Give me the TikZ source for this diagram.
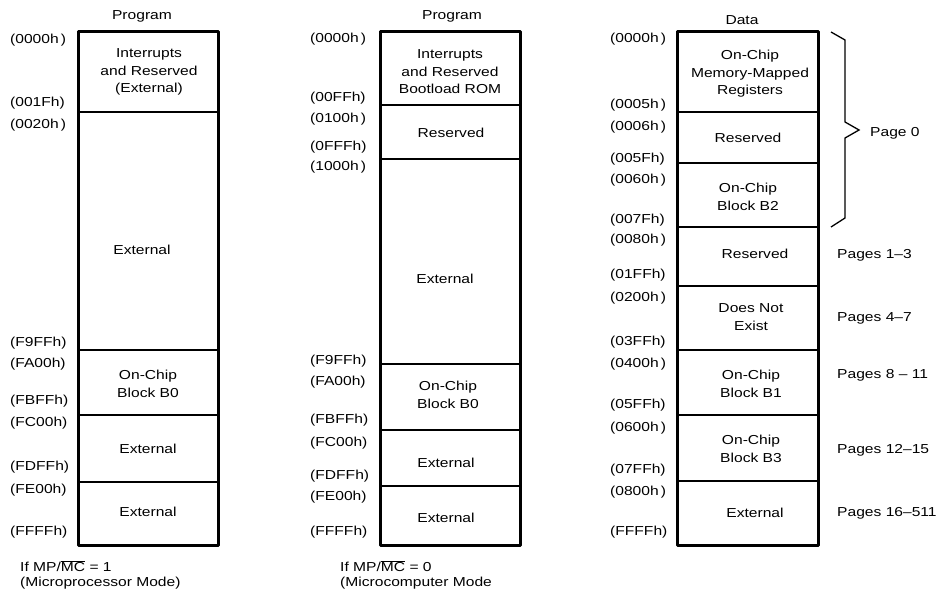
\documentclass[tikz,border=0pt]{standalone}
\usepackage{fontspec}
\setmainfont[FakeStretch=1.2]{Liberation Sans}
\begin{document}
\begin{tikzpicture}[x=1pt,y=-1pt,
  txt/.style={font=\fontsize{13}{17.5}\selectfont, align=center, inner sep=0pt},
  addr/.style={txt, anchor=west},
  outer/.style={line width=3pt, line join=round},
  divider/.style={line width=2pt}]
\useasboundingbox (0,0) rectangle (940,594);

% ---------- Column 1 ----------
\node[txt] (t1) at (142,16) {Program};
\draw[divider] (78,112) -- (218,112);
\draw[divider] (78,350) -- (218,350);
\draw[divider] (78,415) -- (218,415);
\draw[divider] (78,482) -- (218,482);
\draw[outer] (78,32) rectangle (218,545);
\node[txt] (c1a) at (149,72) {Interrupts\\and Reserved\\(External)};
\node[txt] (c1b) at (142,250) {External};
\node[txt] (c1c) at (148,384) {On-Chip\\Block B0};
\node[txt] (c1d) at (148,449) {External};
\node[txt] (c1e) at (148,512) {External};
\node[addr] (a1) at (10,40) {(0000h\,)};
\node[addr] (a2) at (10,103) {(001Fh)};
\node[addr] (a3) at (10,125) {(0020h\,)};
\node[addr] (a4) at (10,343) {(F9FFh)};
\node[addr] (a5) at (10,364) {(FA00h)};
\node[addr] (a6) at (10,401) {(FBFFh)};
\node[addr] (a7) at (10,423) {(FC00h)};
\node[addr] (a8) at (10,467) {(FDFFh)};
\node[addr] (a9) at (10,490) {(FE00h)};
\node[addr] (a10) at (10,532) {(FFFFh)};
\node[addr] (f1) at (20,566) {If MP/$\overline{\hbox{MC}}$ = 1};
\node[addr] (f2) at (20,583) {(Microprocessor Mode)};

% ---------- Column 2 ----------
\node[txt] (t2) at (452,16) {Program};
\draw[divider] (380,105) -- (520,105);
\draw[divider] (380,159) -- (520,159);
\draw[divider] (380,364) -- (520,364);
\draw[divider] (380,430) -- (520,430);
\draw[divider] (380,486) -- (520,486);
\draw[outer] (380,32) rectangle (520,545);
\node[txt] (c2a) at (450,72) {Interrupts\\and Reserved\\Bootload ROM};
\node[txt] (c2b) at (451,133) {Reserved};
\node[txt] (c2c) at (445,279) {External};
\node[txt] (c2d) at (448,395) {On-Chip\\Block B0};
\node[txt] (c2e) at (446,463) {External};
\node[txt] (c2f) at (446,518) {External};
\node[addr] (b1) at (310,39) {(0000h\,)};
\node[addr] (b2) at (310,98) {(00FFh)};
\node[addr] (b3) at (310,119) {(0100h\,)};
\node[addr] (b4) at (310,147) {(0FFFh)};
\node[addr] (b5) at (310,167) {(1000h\,)};
\node[addr] (b6) at (310,361) {(F9FFh)};
\node[addr] (b7) at (310,382) {(FA00h)};
\node[addr] (b8) at (310,420) {(FBFFh)};
\node[addr] (b9) at (310,443) {(FC00h)};
\node[addr] (b10) at (310,476) {(FDFFh)};
\node[addr] (b11) at (310,497) {(FE00h)};
\node[addr] (b12) at (310,532) {(FFFFh)};
\node[addr] (g1) at (340,566) {If MP/$\overline{\hbox{MC}}$ = 0};
\node[addr] (g2) at (340,583) {(Microcomputer Mode};

% ---------- Column 3 ----------
\node[txt] (t3) at (742,20) {Data};
\draw[divider] (677,112) -- (818,112);
\draw[divider] (677,163) -- (818,163);
\draw[divider] (677,227) -- (818,227);
\draw[divider] (677,286) -- (818,286);
\draw[divider] (677,350) -- (818,350);
\draw[divider] (677,415) -- (818,415);
\draw[divider] (677,481) -- (818,481);
\draw[outer] (677,32) rectangle (818,545);
\node[txt] (c3a) at (750,74) {On-Chip\\Memory-Mapped\\Registers};
\node[txt] (c3b) at (748,138) {Reserved};
\node[txt] (c3c) at (748,197) {On-Chip\\Block B2};
\node[txt] (c3d) at (755,254) {Reserved};
\node[txt] (c3e) at (751,317) {Does Not\\Exist};
\node[txt] (c3f) at (751,384) {On-Chip\\Block B1};
\node[txt] (c3g) at (751,449) {On-Chip\\Block B3};
\node[txt] (c3h) at (755,513) {External};
\node[addr] (d1) at (610,39) {(0000h\,)};
\node[addr] (d2) at (610,105) {(0005h\,)};
\node[addr] (d3) at (610,127) {(0006h\,)};
\node[addr] (d4) at (610,159) {(005Fh)};
\node[addr] (d5) at (610,180) {(0060h\,)};
\node[addr] (d6) at (610,220) {(007Fh)};
\node[addr] (d7) at (610,240) {(0080h\,)};
\node[addr] (d8) at (610,275) {(01FFh)};
\node[addr] (d9) at (610,298) {(0200h\,)};
\node[addr] (d10) at (610,342) {(03FFh)};
\node[addr] (d11) at (610,364) {(0400h\,)};
\node[addr] (d12) at (610,405) {(05FFh)};
\node[addr] (d13) at (610,428) {(0600h\,)};
\node[addr] (d14) at (610,470) {(07FFh)};
\node[addr] (d15) at (610,492) {(0800h\,)};
\node[addr] (d16) at (610,532) {(FFFFh)};

% brace
\draw[line width=1.3pt, line join=miter]
  (831,32) -- (845,40) -- (845,122) -- (859,130) -- (845,138) -- (845,218) -- (831,227);
\node[addr] (p0) at (870,133) {Page 0};
\node[addr] (p1) at (837,255) {Pages 1–3};
\node[addr] (p2) at (837,318) {Pages 4–7};
\node[addr] (p3) at (837,375) {Pages 8 – 11};
\node[addr] (p4) at (837,450) {Pages 12–15};
\node[addr] (p5) at (837,513) {Pages 16–511};
\end{tikzpicture}
\end{document}
